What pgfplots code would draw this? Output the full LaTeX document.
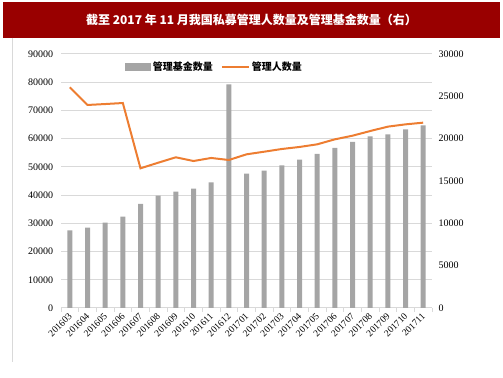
\documentclass[border=0pt]{standalone}
\usepackage{pgfplots}
\pgfplotsset{compat=1.18}
\usepackage{fontspec}
\setmainfont{Liberation Serif}
\newfontfamily\cjk{Noto Sans CJK SC}
\definecolor{titlered}{RGB}{153,0,0}
\definecolor{barg}{RGB}{165,165,165}
\definecolor{lineo}{RGB}{237,125,49}
\definecolor{gridg}{RGB}{217,217,217}
\begin{document}
\begin{tikzpicture}
\useasboundingbox (0,0) rectangle (503bp,378bp);
\fill[titlered] (3bp,340bp) rectangle (500bp,376bp);
\node[text=white,font=\cjk\bfseries\fontsize{12bp}{14bp}\selectfont] at (251.5bp,358bp) {截至 2017 年 11 月我国私募管理人数量及管理基金数量（右）};
\draw[gray!30] (12bp,340bp) -- (12bp,16bp);
\pgfplotsset{common/.style={
  at={(61bp,70bp)}, anchor=south west, scale only axis,
  width=371bp, height=254bp, xmin=-0.5, xmax=20.5,
  axis line style={draw=none},
  /pgf/number format/assume math mode=true,
  /pgf/number format/set thousands separator={},
  scaled y ticks=false,
  yticklabel style={font=\fontsize{10bp}{12bp}\selectfont},
}}
\begin{axis}[common,
  ymin=0, ymax=90000, ytick={0,10000,...,90000},
  ymajorgrids, grid style={gridg, line width=1bp},
  ytick style={draw=none},
  xtick={0,...,20},
  xticklabels={201603,201604,201605,201606,201607,201608,201609,201610,201611,201612,201701,201702,201703,201704,201705,201706,201707,201708,201709,201710,201711},
  x tick label style={rotate=45, anchor=east, font=\fontsize{9.5bp}{11bp}\selectfont, xshift=2bp, yshift=-2bp},
  xtick style={draw=none},
  minor xtick={-0.5,0.5,...,20.5},
  minor x tick style={draw=gridg, line width=0.8bp},
  minor tick length=4bp, tick align=outside, xtick pos=bottom,
]
\addplot[ybar, bar width=5bp, fill=barg, draw=none] coordinates {
(0,27500) (1,28450) (2,30230) (3,32360) (4,36850) (5,39800) (6,41200) (7,42280) (8,44530) (9,79260)
(10,47600) (11,48660) (12,50550) (13,52560) (14,54570) (15,56700) (16,58820) (17,60830) (18,61540) (19,63310) (20,64720)};
\end{axis}
\begin{axis}[common,
  ymin=0, ymax=30000, ytick={0,5000,...,30000},
  yticklabel pos=right, ytick style={draw=none},
  yticklabel style={xshift=3bp},
  xtick=\empty,
  legend columns=2,
  legend style={draw=none, fill=none, at={(0.165,0.949)}, anchor=west,
    font=\cjk\bfseries\fontsize{10bp}{12bp}\selectfont,
    /tikz/every even column/.append style={column sep=6bp}},
]
\addlegendimage{legend image code/.code={\fill[barg] (0bp,-3.5bp) rectangle (25bp,3.5bp);}}
\addlegendentry{管理基金数量}
\addplot[lineo, line width=2bp, mark=none, legend image code/.code={\draw[lineo, line width=2bp] (0bp,0bp) -- (27bp,0bp);}] coordinates {
(0,26070) (1,23980) (2,24090) (3,24210) (4,16500) (5,17160) (6,17800) (7,17360) (8,17720) (9,17480)
(10,18150) (11,18460) (12,18780) (13,19020) (14,19330) (15,19920) (16,20350) (17,20900) (18,21420) (19,21690) (20,21890)};
\addlegendentry{管理人数量}
\end{axis}
\end{tikzpicture}
\end{document}
